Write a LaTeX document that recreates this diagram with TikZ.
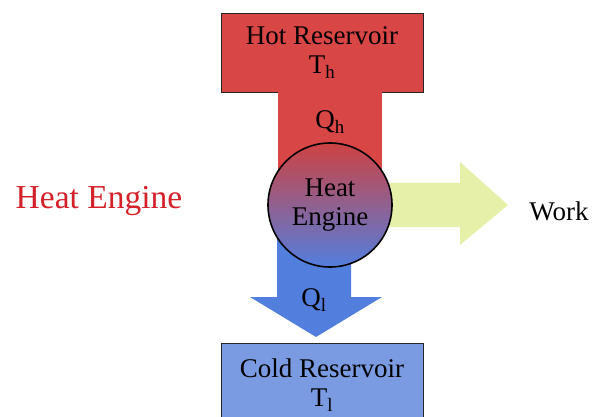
\documentclass[tikz,border=0pt]{standalone}
\usepackage{fontspec}
\setmainfont{Liberation Serif}
\usetikzlibrary{positioning}

\definecolor{hotred}{RGB}{216,70,70}
\definecolor{coldblue}{RGB}{122,155,226}
\definecolor{flowblue}{RGB}{82,126,222}
\definecolor{workyellow}{RGB}{231,240,168}
\definecolor{titlered}{RGB}{212,32,40}

\begin{document}
\begin{tikzpicture}[x=1pt, y=-1pt,
  reservoir/.style={draw=black!85, line width=0.8pt, minimum width=202pt,
    inner sep=0pt, align=center, font=\fontsize{27}{29}\selectfont},
  lbl/.style={inner sep=0pt, font=\fontsize{27}{29}\selectfont}]
\clip (0,0) rectangle (592,417);

\node[reservoir, fill=hotred, minimum height=79pt] (hot) at (322,52.5) {Hot Reservoir\\T\textsubscript{h}};
\node[reservoir, fill=coldblue, minimum height=84pt] (cold) at (322,385) {Cold Reservoir\\T\textsubscript{l}};

% heat flows in and out
\coordinate (mid) at (330,205);
\fill[hotred] (hot.south -| 278,0) rectangle (mid -| 382,0);
\fill[flowblue] (mid -| 277,0) -- (mid -| 351,0) -- (351,297) -- (382,297)
  -- (316,337) -- (250,297) -- (277,297) -- cycle;
\fill[workyellow] (330,183) -- (460,183) -- (460,162) -- (508,205)
  -- (460,245) -- (460,227) -- (330,227) -- cycle;

\node[lbl] (qh) at (330,122) {Q\textsubscript{h}};
\node[lbl] (ql) at (314,300) {Q\textsubscript{l}};

\node[circle, draw, line width=1.6pt, minimum size=124pt, inner sep=0pt,
  top color=hotred!95!black, bottom color=flowblue, align=center,
  font=\fontsize{27}{29}\selectfont] (engine) at (mid) {Heat\\Engine};

\node[lbl, anchor=base] (work) at (559,220) {Work};
\node[text=titlered, anchor=base, inner sep=0pt,
  font=\fontsize{33.5}{36}\selectfont] (title) at (99,208) {Heat Engine};
\end{tikzpicture}
\end{document}
